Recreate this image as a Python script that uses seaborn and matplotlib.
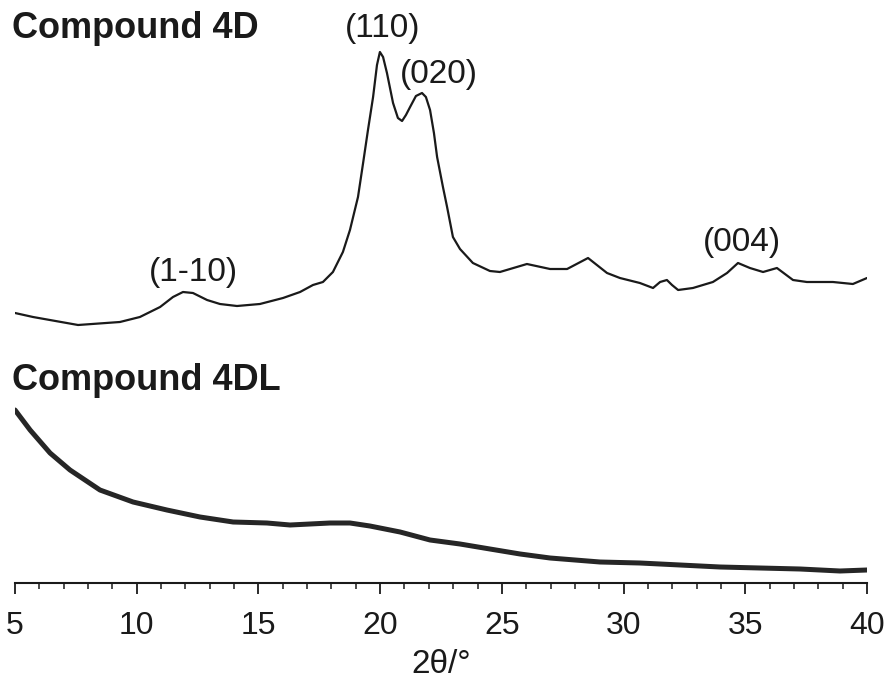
import matplotlib
matplotlib.use("Agg")
import matplotlib.pyplot as plt
import seaborn as sns
import pandas as pd

# Powder XRD traces (intensity in arbitrary units, stacked with the 4D trace on top)
two_theta_4d = [5.00, 5.74, 7.59, 9.31, 10.13, 10.96, 11.49, 11.90, 12.31, 12.89,
                13.42, 14.12, 15.06, 16.01, 16.71, 17.24, 17.65, 18.06, 18.47, 18.76,
                19.09, 19.30, 19.50, 19.71, 19.87, 19.99, 20.12, 20.28, 20.53, 20.73,
                20.90, 21.06, 21.23, 21.47, 21.72, 21.88, 22.05, 22.21, 22.34, 22.58,
                22.75, 22.99, 23.28, 23.81, 24.51, 24.92, 26.03, 26.98, 27.68, 28.54,
                29.32, 29.85, 30.67, 31.21, 31.50, 31.78, 31.99, 32.24, 32.85, 33.67,
                34.25, 34.70, 35.19, 35.73, 36.30, 36.96, 37.53, 38.60, 39.42, 40.00]
intensity_4d = [270, 266, 258, 261, 266, 276, 286, 291, 290, 283,
                279, 277, 279, 285, 291, 298, 301, 311, 331, 353,
                386, 420, 453, 486, 518, 531, 526, 510, 480, 465,
                462, 468, 476, 487, 490, 486, 473, 450, 426, 396,
                376, 346, 334, 320, 312, 311, 319, 314, 314, 325,
                310, 305, 300, 295, 301, 303, 298, 293, 295, 301,
                310, 320, 315, 311, 315, 303, 301, 301, 299, 305]

two_theta_4dl = [5.0, 5.62, 6.44, 7.26, 8.49, 9.85, 11.24, 12.60, 13.96, 15.35,
                 16.30, 17.94, 18.76, 19.58, 20.82, 22.05, 23.28, 24.51, 25.75, 26.98,
                 29.03, 30.67, 32.32, 33.96, 35.60, 37.25, 38.89, 40.0]
intensity_4dl = [173, 153, 130, 113, 93, 81, 73, 66, 61, 60,
                 58, 60, 60, 57, 51, 43, 39, 34, 29, 25,
                 21, 20, 18, 16, 15, 14, 12, 13]

peak_labels = ["(1-10)", "(110)", "(020)", "(004)"]
peak_label_x = [12.35, 20.12, 22.42, 34.87]
peak_label_y = [311, 555, 508, 341]

sample_names = ["Compound 4D", "Compound 4DL"]
sample_name_y = [555, 202]

sns.set_style("ticks")
plt.rcParams["font.family"] = ["Liberation Sans", "DejaVu Sans"]

fig = plt.figure(figsize=(8.86, 6.87), dpi=100)
ax = fig.add_axes([15 / 886, 104 / 687, 852 / 886, 583 / 687])

df_4d = pd.DataFrame({"two_theta": two_theta_4d, "intensity": intensity_4d})
df_4dl = pd.DataFrame({"two_theta": two_theta_4dl, "intensity": intensity_4dl})

sns.lineplot(data=df_4d, x="two_theta", y="intensity", ax=ax,
             color="#1a1a1a", linewidth=1.6, sort=False)
sns.lineplot(data=df_4dl, x="two_theta", y="intensity", ax=ax,
             color="#1a1a1a", linewidth=3.6, sort=False, alpha=0.95)

for label, x, y in zip(peak_labels, peak_label_x, peak_label_y):
    ax.text(x, y, label, ha="center", va="center", fontsize=24, color="#1a1a1a",
            clip_on=False)

for name, y in zip(sample_names, sample_name_y):
    ax.text(4.88, y, name, ha="left", va="center", fontsize=26,
            fontweight="bold", color="#1a1a1a", clip_on=False)

ax.set_xlim(5, 40)
ax.set_ylim(0, 583)
ax.set_xticks(range(5, 41, 5))
ax.set_xticks(range(5, 41, 1), minor=True)
ax.set_yticks([])
ax.set_xlabel("2θ/°", fontsize=24, labelpad=6, color="#1a1a1a")
ax.set_ylabel("")

sns.despine(ax=ax, left=True, top=True, right=True)
ax.spines["bottom"].set_linewidth(1.5)
ax.spines["bottom"].set_color("#1a1a1a")
ax.tick_params(axis="x", which="major", length=8, width=1.3, direction="out",
               labelsize=23, pad=12, colors="#1a1a1a")
ax.tick_params(axis="x", which="minor", length=4.5, width=1.1, direction="out",
               colors="#1a1a1a")
ax.patch.set_alpha(0)

fig.savefig("out.png", dpi=100)
